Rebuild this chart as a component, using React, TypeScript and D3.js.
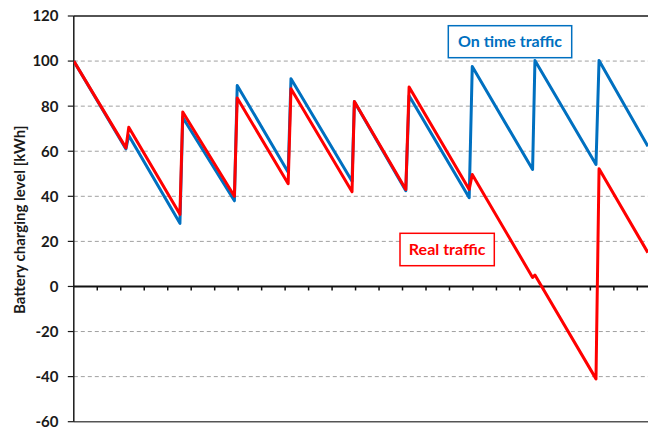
import React, { useEffect, useRef } from 'react';
import * as d3 from 'd3';

// time in axis units (one tick = one unit), level in kWh
const onTimeHours = [0, 2.22, 2.34, 4.52, 4.64, 6.84, 6.96, 9.13, 9.25, 11.85, 11.95, 14.14, 14.28, 16.84, 16.97, 19.54, 19.64, 22.24, 22.37, 24.45];
const onTimeLevel = [100, 61, 67, 28, 75, 38, 89.2, 50.7, 92.2, 46.7, 82, 42.5, 84.6, 39.4, 97.6, 51.9, 100.3, 54.1, 100.3, 62.2];

const realHours = [0, 2.22, 2.34, 4.52, 4.64, 6.84, 6.96, 9.13, 9.25, 11.85, 11.95, 14.14, 14.28, 16.84, 16.97, 19.54, 19.64, 22.24, 22.37, 24.45];
const realLevel = [100, 61.5, 70.6, 32, 77.4, 40, 83.6, 45.6, 87.7, 42, 82.1, 43, 88.5, 43, 49.7, 4, 5.1, -41, 52.2, 15];

const yTicks = [-60, -40, -20, 0, 20, 40, 60, 80, 100, 120];
const xTicks = d3.range(1, 25);

const W = 648;
const H = 428;

const App: React.FC = () => {
    const svgRef = useRef<SVGSVGElement>(null);

    useEffect(() => {
        const svg = d3.select(svgRef.current);
        svg.selectAll('*').remove();

        const left = 73.8;
        const unit = 23.48;
        const top = 16;
        const bottom = 421.7;

        const x = d3.scaleLinear().domain([0, 25]).range([left, left + 25 * unit]);
        const y = d3.scaleLinear().domain([-60, 120]).range([bottom, top]);

        const font = 'Lato, "Open Sans", sans-serif';

        svg.append('defs')
            .append('clipPath')
            .attr('id', 'plot-clip')
            .append('rect')
            .attr('x', left)
            .attr('y', top - 5)
            .attr('width', W - left)
            .attr('height', bottom - top + 10);

        // Dashed grid lines
        svg.append('g')
            .selectAll('line')
            .data(yTicks.filter(d => d !== 0 && d !== 120 && d !== -60))
            .enter()
            .append('line')
            .attr('x1', left)
            .attr('x2', W)
            .attr('y1', d => y(d))
            .attr('y2', d => y(d))
            .attr('stroke', '#a0a0a0')
            .attr('stroke-width', 1)
            .attr('stroke-dasharray', '4,3');

        // Plot border: top, bottom, left
        svg.append('line')
            .attr('x1', left).attr('x2', W)
            .attr('y1', y(120)).attr('y2', y(120))
            .attr('stroke', '#1a1a1a').attr('stroke-width', 1.5);
        svg.append('line')
            .attr('x1', left).attr('x2', W)
            .attr('y1', y(-60)).attr('y2', y(-60))
            .attr('stroke', '#555').attr('stroke-width', 1.5);
        svg.append('line')
            .attr('x1', left).attr('x2', left)
            .attr('y1', y(120)).attr('y2', y(-60))
            .attr('stroke', '#1a1a1a').attr('stroke-width', 1.5);

        // Zero line with tick marks
        svg.append('line')
            .attr('x1', left).attr('x2', W)
            .attr('y1', y(0)).attr('y2', y(0))
            .attr('stroke', '#111').attr('stroke-width', 2);
        svg.append('g')
            .selectAll('line')
            .data(xTicks)
            .enter()
            .append('line')
            .attr('x1', d => x(d))
            .attr('x2', d => x(d))
            .attr('y1', y(0))
            .attr('y2', y(0) + 4)
            .attr('stroke', '#111')
            .attr('stroke-width', 1.5);

        // Y axis ticks and labels
        const yAxis = svg.append('g');
        yAxis.selectAll('line')
            .data(yTicks)
            .enter()
            .append('line')
            .attr('x1', left - 6)
            .attr('x2', left)
            .attr('y1', d => y(d))
            .attr('y2', d => y(d))
            .attr('stroke', '#1a1a1a')
            .attr('stroke-width', 1.2);
        yAxis.selectAll('text')
            .data(yTicks)
            .enter()
            .append('text')
            .attr('x', 58.5)
            .attr('y', d => y(d))
            .attr('dy', '0.36em')
            .attr('text-anchor', 'end')
            .style('font-family', font)
            .style('font-size', '15px')
            .style('font-weight', 'bold')
            .style('fill', '#1a1a1a')
            .text(d => d);

        // Y axis title
        svg.append('text')
            .attr('transform', `translate(24.5,${(top + bottom) / 2 + 1}) rotate(-90)`)
            .attr('text-anchor', 'middle')
            .style('font-family', font)
            .style('font-size', '15px')
            .style('font-weight', 'bold')
            .style('fill', '#1a1a1a')
            .text('Battery charging level [kWh]');

        // Lines
        const line = d3.line<[number, number]>()
            .x(d => x(d[0]))
            .y(d => y(d[1]));

        const plot = svg.append('g').attr('clip-path', 'url(#plot-clip)');

        plot.append('path')
            .datum(onTimeHours.map((h, i) => [h, onTimeLevel[i]] as [number, number]))
            .attr('d', line)
            .attr('fill', 'none')
            .attr('stroke', '#0070C0')
            .attr('stroke-width', 3)
            .attr('stroke-linejoin', 'round');

        plot.append('path')
            .datum(realHours.map((h, i) => [h, realLevel[i]] as [number, number]))
            .attr('d', line)
            .attr('fill', 'none')
            .attr('stroke', '#FF0000')
            .attr('stroke-width', 3)
            .attr('stroke-linejoin', 'round');

        // Annotation boxes
        const labels = [
            { text: 'On time traffic', color: '#0070C0', x: 448.3, y: 25.7, w: 123.4, h: 32 },
            { text: 'Real traffic', color: '#FF0000', x: 400, y: 233.3, w: 94.3, h: 32.4 }
        ];
        const lg = svg.append('g')
            .selectAll('g')
            .data(labels)
            .enter()
            .append('g');
        lg.append('rect')
            .attr('x', d => d.x)
            .attr('y', d => d.y)
            .attr('width', d => d.w)
            .attr('height', d => d.h)
            .attr('fill', 'white')
            .attr('stroke', d => d.color)
            .attr('stroke-width', 1.5);
        lg.append('text')
            .attr('x', d => d.x + d.w / 2)
            .attr('y', d => d.y + d.h / 2)
            .attr('dy', '0.36em')
            .attr('text-anchor', 'middle')
            .style('font-family', font)
            .style('font-size', '16px')
            .style('font-weight', 'bold')
            .style('fill', d => d.color)
            .text(d => d.text);
    }, []);

    return (
        <svg
            ref={svgRef}
            width={W}
            height={H}
            style={{ position: 'absolute', left: 0, top: 0, background: 'white', display: 'block' }}
        />
    );
};

export default App;
